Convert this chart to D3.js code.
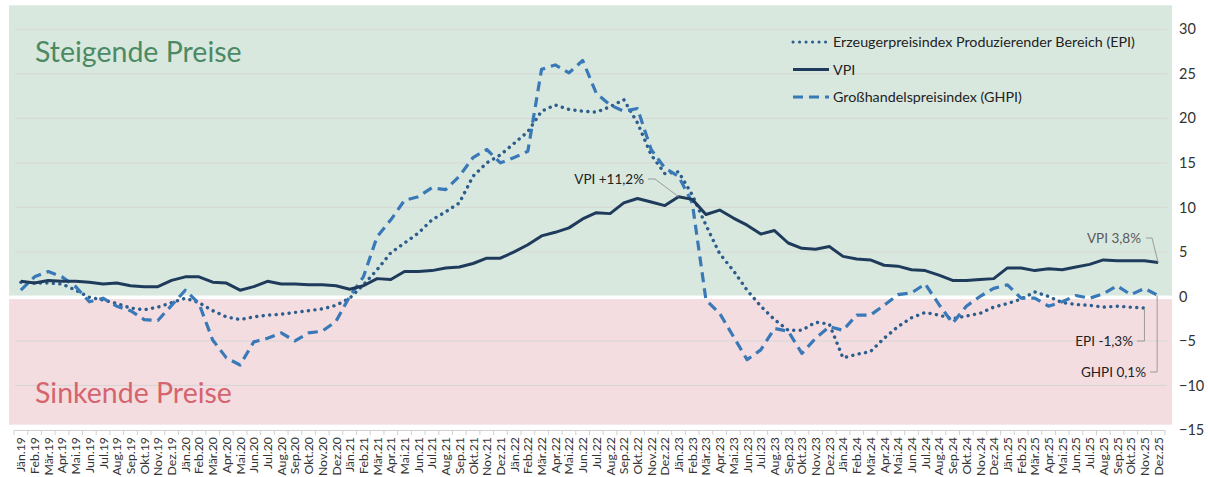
<!DOCTYPE html>
<html>
<head>
<meta charset="utf-8">
<script src="https://cdn.jsdelivr.net/npm/d3@7"></script>
<style>
    body { margin: 0; background: #fff; }
    text { font-family: Lato, "Open Sans", sans-serif; }
</style>
</head>
<body>
<div id="chart"></div>
<script>
// Daten
const monate = ["Jän", "Feb", "Mär", "Apr", "Mai", "Jun", "Jul", "Aug", "Sep", "Okt", "Nov", "Dez"];
const jahre = ["19", "20", "21", "22", "23", "24", "25"];

const vpi = [
    1.7, 1.5, 1.8, 1.7, 1.7, 1.6, 1.4, 1.5, 1.2, 1.1, 1.1, 1.8,
    2.2, 2.2, 1.6, 1.5, 0.7, 1.1, 1.7, 1.4, 1.4, 1.3, 1.3, 1.2,
    0.8, 1.2, 2.0, 1.9, 2.8, 2.8, 2.9, 3.2, 3.3, 3.7, 4.3, 4.3,
    5.0, 5.8, 6.8, 7.2, 7.7, 8.7, 9.4, 9.3, 10.5, 11.0, 10.6, 10.2,
    11.2, 10.9, 9.2, 9.7, 8.8, 8.0, 7.0, 7.4, 6.0, 5.4, 5.3, 5.6,
    4.5, 4.2, 4.1, 3.5, 3.4, 3.0, 2.9, 2.4, 1.8, 1.8, 1.9, 2.0,
    3.2, 3.2, 2.9, 3.1, 3.0, 3.3, 3.6, 4.1, 4.0, 4.0, 4.0, 3.8
];
// EPI endet im Nov.25
const epi = [
    1.6, 1.5, 1.5, 1.4, 0.7, -0.1, -0.4, -0.8, -1.3, -1.5, -1.2, -0.7,
    -0.2, -0.7, -1.6, -2.3, -2.6, -2.3, -2.1, -2.0, -1.8, -1.6, -1.4, -1.0,
    -0.2, 1.3, 3.0, 4.9, 6.0, 7.1, 8.6, 9.5, 10.5, 13.5, 15.0, 15.9,
    17.2, 18.5, 20.8, 21.5, 21.0, 20.8, 20.7, 21.3, 22.1, 19.5, 15.9, 13.8,
    14.0, 11.4, 8.0, 4.8, 2.9, 0.7, -1.1, -2.6, -3.8, -3.8, -2.9, -3.1,
    -6.9, -6.5, -6.2, -4.7, -3.4, -2.4, -1.8, -2.1, -2.5, -2.2, -1.9, -1.2,
    -0.8, -0.3, 0.5, 0.0, -0.7, -0.9, -1.0, -1.2, -1.1, -1.2, -1.3
];
const ghpi = [
    0.7, 2.2, 2.8, 2.2, 1.1, -0.6, -0.2, -1.1, -1.6, -2.6, -2.7, -1.0,
    0.7, -0.8, -4.9, -6.9, -7.7, -5.1, -4.7, -4.1, -5.0, -4.1, -3.9, -2.8,
    0.0, 2.2, 6.7, 8.6, 10.8, 11.2, 12.2, 12.0, 13.5, 15.6, 16.5, 15.0,
    15.6, 16.3, 25.5, 26.0, 25.1, 26.5, 22.8, 21.5, 20.8, 21.1, 16.5, 14.4,
    13.5, 10.5, -0.4, -1.9, -4.5, -7.1, -6.0, -3.6, -3.9, -6.4, -4.7, -3.4,
    -3.8, -2.1, -2.1, -1.0, 0.2, 0.4, 1.4, -0.9, -3.0, -1.1, 0.0, 0.9,
    1.3, -0.2, -0.2, -1.1, -0.6, 0.1, -0.2, 0.3, 1.2, 0.2, 0.9, 0.1
];
const yTicks = [-15, -10, -5, 0, 5, 10, 15, 20, 25, 30];

const kategorien = [];
jahre.forEach(j => monate.forEach(m => kategorien.push(m + "." + j)));

const width = 1208, height = 477;

let svg = d3.select("#chart").append("svg")
    .attr("width", width)
    .attr("height", height);

let x = d3.scaleBand().domain(kategorien).range([14, 1165]);
let y = d3.scaleLinear().domain([-15, 30]).range([430, 29.3]);
let cx = c => x(c) + x.bandwidth() / 2;

// hintergrund: steigend / sinkend
svg.append("rect")
    .attr("x", 9).attr("width", 1163)
    .attr("y", y(32.7)).attr("height", y(0.1) - y(32.7))
    .attr("fill", "#d9e8df");
svg.append("rect")
    .attr("x", 9).attr("width", 1163)
    .attr("y", y(-0.3)).attr("height", y(-14.4) - y(-0.3))
    .attr("fill", "#f4dde0");

// gitterlinien
yTicks.filter(t => t > -15 && t !== 0).forEach(t => {
    svg.append("line")
        .attr("x1", 15).attr("x2", 1167)
        .attr("y1", y(t)).attr("y2", y(t))
        .attr("stroke", "#d6d6d6")
        .attr("stroke-width", 1);
});

svg.append("text")
    .attr("x", 35).attr("y", 62)
    .attr("font-size", 28.5)
    .attr("fill", "#4b8a63")
    .text("Steigende Preise");
svg.append("text")
    .attr("x", 35).attr("y", 403)
    .attr("font-size", 28.5)
    .attr("fill", "#d5646e")
    .text("Sinkende Preise");

// x-achse
svg.append("line")
    .attr("x1", 14).attr("x2", 1165)
    .attr("y1", 430.5).attr("y2", 430.5)
    .attr("stroke", "#d0d0d0");
d3.range(kategorien.length + 1).forEach(i => {
    let xx = 14 + i * x.step();
    svg.append("line")
        .attr("x1", xx).attr("x2", xx)
        .attr("y1", 430.5).attr("y2", 435)
        .attr("stroke", "#d0d0d0");
});
let xAxis = svg.append("g")
    .call(d3.axisBottom(x).tickSize(0).tickPadding(0));
xAxis.select(".domain").remove();
xAxis.selectAll(".tick").attr("transform", null);
xAxis.selectAll("text")
    .attr("transform", d => "translate(" + (cx(d) + 4.5) + ",437) rotate(-90)")
    .attr("x", 0).attr("y", 0).attr("dy", 0)
    .attr("text-anchor", "end")
    .attr("font-size", 12.3)
    .attr("fill", "#333");

// y-achse rechts
let yAxis = svg.append("g")
    .attr("transform", "translate(1179,0)")
    .call(d3.axisRight(y).tickValues(yTicks).tickSize(0).tickPadding(0));
yAxis.select(".domain").remove();
yAxis.selectAll("text")
    .attr("font-size", 14.5)
    .attr("fill", "#333");

// linien
function drawLine(data, color, dash, w) {
    let line = d3.line()
        .x((d, i) => cx(kategorien[i]))
        .y(d => y(d));
    svg.append("path")
        .datum(data)
        .attr("d", line)
        .attr("fill", "none")
        .attr("stroke", color)
        .attr("stroke-width", w)
        .attr("stroke-dasharray", dash)
        .attr("stroke-linecap", dash === "0.1,6.4" ? "round" : "butt")
        .attr("stroke-linejoin", "round");
}
drawLine(epi, "#2d5d8d", "0.1,6.4", 3.4);
drawLine(ghpi, "#3a79b7", "10,6", 3.2);
drawLine(vpi, "#1f3b5b", null, 3);

// legende
let legend = [
    {name: "Erzeugerpreisindex Produzierender Bereich (EPI)", color: "#2d5d8d", dash: "0.1,6.4"},
    {name: "VPI", color: "#1f3b5b", dash: null},
    {name: "Großhandelspreisindex (GHPI)", color: "#3a79b7", dash: "10,6"}
];
legend.forEach((l, i) => {
    let ly = 42 + i * 27.5;
    svg.append("line")
        .attr("x1", 793).attr("x2", 829)
        .attr("y1", ly).attr("y2", ly)
        .attr("stroke", l.color)
        .attr("stroke-width", 3)
        .attr("stroke-dasharray", l.dash)
        .attr("stroke-linecap", l.dash === "0.1,6.4" ? "round" : "butt");
    svg.append("text")
        .attr("x", 833).attr("y", ly + 5)
        .attr("font-size", 14.3)
        .attr("fill", "#222")
        .text(l.name);
});

// beschriftungen
function label(text, tx, ty, anchor, color, pts) {
    svg.append("text")
        .attr("x", tx).attr("y", ty + 5)
        .attr("font-size", 13.5)
        .attr("text-anchor", anchor)
        .attr("fill", color)
        .text(text);
    svg.append("polyline")
        .attr("points", pts.map(p => p.join(",")).join(" "))
        .attr("fill", "none")
        .attr("stroke", "#9a9a9a")
        .attr("stroke-width", 1);
}
let iPeak = 48, iLast = kategorien.length - 1, iEpi = epi.length - 1;
label("VPI +11,2%", 644, 179, "end", "#222",
    [[648, 179], [655, 179], [cx(kategorien[iPeak]), y(vpi[iPeak])]]);
label("VPI 3,8%", 1141, 238, "end", "#595959",
    [[1146, 238], [1152, 238], [cx(kategorien[iLast]), y(vpi[iLast])]]);
label("EPI -1,3%", 1133, 341, "end", "#222",
    [[1137, 341], [cx(kategorien[iEpi]), 341], [cx(kategorien[iEpi]), y(epi[iEpi])]]);
label("GHPI 0,1%", 1146, 372, "end", "#222",
    [[1150, 372], [cx(kategorien[iLast]) - 1, 372], [cx(kategorien[iLast]) - 1, y(ghpi[iLast])]]);
</script>
</body>
</html>
